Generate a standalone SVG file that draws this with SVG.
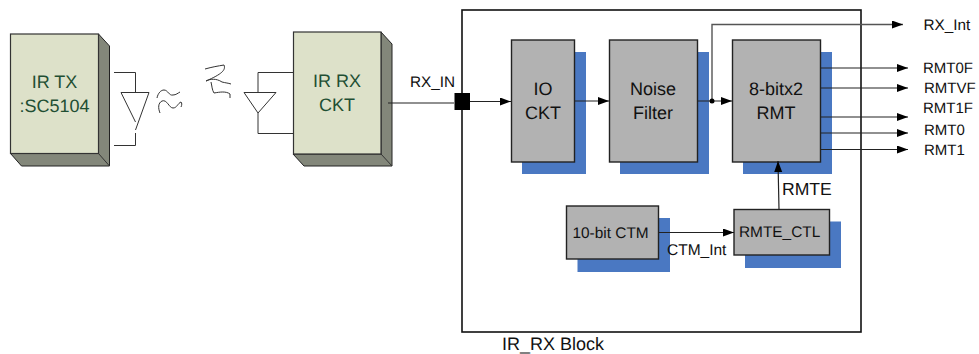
<svg xmlns="http://www.w3.org/2000/svg" width="979" height="354" viewBox="0 0 979 354">
<defs>
<style>
text{font-family:"Liberation Sans",Arial,sans-serif;font-size:15px;fill:#111;text-rendering:geometricPrecision}
.big{font-size:18px;text-anchor:middle}
.grn{fill:#1f4f33}
.front3d{fill:#dde1c9;stroke:#333;stroke-width:1.2}
.side3d{fill:#83877a;stroke:#222;stroke-width:1}
.box{fill:#b2b2b2;stroke:#222;stroke-width:1.4}
.shadow{fill:#4a78c2}
.wire{fill:none;stroke:#222;stroke-width:1.2}
.thin{fill:none;stroke:#333;stroke-width:1}
</style>
<marker id="arr" markerUnits="userSpaceOnUse" markerWidth="11" markerHeight="9" refX="11" refY="4" orient="auto"><path d="M0 0L11 4L0 8z" fill="#000"/></marker>
</defs>
<g id="ir-tx">
<path class="side3d" d="M98.500 34L109.500 46V166H21.500L10.500 153.500H98.500z"/>
<path class="thin" d="M98.500 153.500L109.500 166"/>
<rect class="front3d" x="10.500" y="34" width="88" height="119.500"/>
<text class="big grn" x="54.500" y="88">IR TX</text>
<text class="big grn" x="54.500" y="112">:SC5104</text>
</g>
<g id="tx-diode">
<path class="thin" d="M114 72.500H135.500V92M121 92.500H149M121 92.500L135.500 122M149 92.500L135.500 130M135.500 133V145.500H114"/>
<path class="thin" d="M157 98C158 93 161 90 164 90C168 90 169 96 173 95C176 95 178 93 180 92M160 113C158 108 158 103 162 101C167 99 169 108 173 108C177 108 178 103 181 102C182 103 182 105 181 107"/>
</g>
<g id="wave">
<path class="thin" d="M205 69C212 67 218 66 224 65C226 70 222 74 206 81C210 79 216 78 222 82C226 83 228 83 231 84M211 82C212 86 212 90 214 93C220 92 226 91 230 94V98"/>
</g>
<g id="rx-diode">
<path class="thin" d="M293 72.500H258V93M244 92.500H276L258 113L244 92.500M258 113V133.500H293"/>
</g>
<g id="ir-rx">
<path class="side3d" d="M381 32L392 44V166H304L293 154H381z"/>
<path class="thin" d="M381 154L392 166"/>
<rect class="front3d" x="293.500" y="32" width="87.500" height="122"/>
<text class="big grn" x="337" y="87">IR RX</text>
<text class="big grn" x="337" y="111">CKT</text>
</g>
<g id="ir-rx-block">
<rect x="462" y="10" width="399" height="322" fill="none" stroke="#111" stroke-width="1.6"/>
<text x="502" y="350" style="font-size:18px">IR_RX Block</text>
</g>
<g id="io-ckt">
<rect class="shadow" x="522" y="52" width="64" height="122"/>
<rect class="box" x="511.500" y="40" width="63" height="122"/>
<text class="big" x="543" y="95">IO</text>
<text class="big" x="543" y="119">CKT</text>
</g>
<g id="noise-filter">
<rect class="shadow" x="620" y="52" width="89" height="122"/>
<rect class="box" x="609.500" y="40" width="88" height="122"/>
<text class="big" x="653" y="95">Noise</text>
<text class="big" x="653" y="119">Filter</text>
</g>
<g id="rmt">
<rect class="shadow" x="743" y="52" width="89" height="122"/>
<rect class="box" x="732.500" y="40" width="88" height="122"/>
<text class="big" x="776" y="95">8-bitx2</text>
<text class="big" x="776" y="119">RMT</text>
</g>
<g id="ctm">
<rect class="shadow" x="577.500" y="218" width="92.500" height="54"/>
<rect class="box" x="566.500" y="206" width="92" height="53"/>
<text x="572.500" y="238" style="font-size:15.400px">10-bit CTM</text>
</g>
<g id="rmte-ctl">
<rect class="shadow" x="745" y="221.500" width="96" height="46.500"/>
<rect class="box" x="734" y="209.500" width="95.500" height="45.500"/>
<text x="739" y="237" style="font-size:15.400px">RMTE_CTL</text>
</g>
<g id="connectors">
<path class="wire" d="M388 103H454"/>
<path class="wire" d="M470 101.500H511" marker-end="url(#arr)"/>
<path class="wire" d="M574.500 101H609" marker-end="url(#arr)"/>
<path class="wire" d="M697.500 101H732" marker-end="url(#arr)"/>
<path d="M712 101V24.500H903" fill="none" stroke="#555" stroke-width="1.400" marker-end="url(#arr)"/>
<circle cx="712" cy="101" r="2.500" fill="#000"/>
<path class="wire" d="M820.500 68H908" marker-end="url(#arr)"/>
<path class="wire" d="M820.500 88H908" marker-end="url(#arr)"/>
<path class="wire" d="M820.500 117H908" marker-end="url(#arr)"/>
<path class="wire" d="M820.500 133H908" marker-end="url(#arr)"/>
<path class="wire" d="M820.500 149.500H908" marker-end="url(#arr)"/>
<path class="wire" d="M779 209.500L778 161" marker-end="url(#arr)"/>
<path class="wire" d="M658.500 232.500H734" marker-end="url(#arr)"/>
<rect x="454.500" y="93" width="15.500" height="17" fill="#000"/>
</g>
<g id="labels">
<text x="410" y="87" style="font-size:15.300px">RX_IN</text>
<text x="923.500" y="30" style="font-size:15.300px">RX_Int</text>
<text x="923" y="73">RMT0F</text>
<text x="924" y="93">RMTVF</text>
<text x="923" y="113">RMT1F</text>
<text x="924" y="135">RMT0</text>
<text x="924" y="155">RMT1</text>
<text x="782" y="195" style="font-size:17.600px">RMTE</text>
<text x="667" y="255" style="font-size:15.500px">CTM_Int</text>
</g>
</svg>
